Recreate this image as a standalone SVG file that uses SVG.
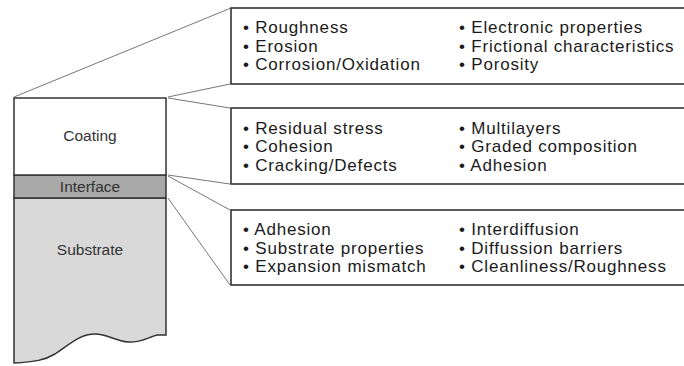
<svg xmlns="http://www.w3.org/2000/svg" width="684" height="366" viewBox="0 0 684 366">
<style>
.box{fill:#fff;stroke:#333;stroke-width:1.6}
.item{font-family:"Liberation Sans",Arial,sans-serif;font-size:17px;letter-spacing:0.8px;fill:#1a1a1a}
.lbl{font-family:"Liberation Sans",Arial,sans-serif;font-size:15.5px;fill:#333;text-anchor:middle}
.conn{stroke:#777;stroke-width:1;fill:none}
.layer{stroke:#333;stroke-width:1.5}
</style>
<rect width="684" height="366" fill="#fff"/>
<g id="connectors">
<line class="conn" x1="14" y1="97" x2="231" y2="8"/>
<line class="conn" x1="168" y1="97" x2="230" y2="84"/>
<line class="conn" x1="168" y1="98" x2="230" y2="108"/>
<line class="conn" x1="168" y1="175" x2="230" y2="184"/>
<line class="conn" x1="168" y1="176" x2="230" y2="210"/>
<line class="conn" x1="168" y1="198" x2="230" y2="285"/>
</g>
<g id="stack">
<g id="substrate">
<path class="layer" fill="#d9d9d9" d="M14,198 L166,198 L166,335 L158,335 C150,336 142,343 128,342 C115,341 108,334 95,334 C80,334 70,344 55,354 C45,360 35,362 14,363 Z"/>
<text class="lbl" x="90" y="255">Substrate</text>
</g>
<g id="interface">
<rect class="layer" x="14" y="175" width="152" height="23" fill="#a9a9a9"/>
<text class="lbl" x="90" y="192">Interface</text>
</g>
<g id="coating">
<rect class="layer" x="14" y="98" width="152" height="77" fill="#fff"/>
<text class="lbl" x="90" y="141">Coating</text>
</g>
</g>
<g id="box-coating">
<rect class="box" x="231" y="8" width="470" height="76"/>
<text class="item" x="243" y="33">• Roughness</text>
<text class="item" x="243" y="51.5">• Erosion</text>
<text class="item" x="243" y="70">• Corrosion/Oxidation</text>
<text class="item" x="459" y="33">• Electronic properties</text>
<text class="item" x="459" y="51.5">• Frictional characteristics</text>
<text class="item" x="459" y="70">• Porosity</text>
</g>
<g id="box-interface">
<rect class="box" x="231" y="108" width="470" height="76"/>
<text class="item" x="243" y="133.5">• Residual stress</text>
<text class="item" x="243" y="152">• Cohesion</text>
<text class="item" x="243" y="170.5">• Cracking/Defects</text>
<text class="item" x="459" y="133.5">• Multilayers</text>
<text class="item" x="459" y="152">• Graded composition</text>
<text class="item" x="459" y="170.5">• Adhesion</text>
</g>
<g id="box-substrate">
<rect class="box" x="231" y="210" width="470" height="75"/>
<text class="item" x="243" y="235">• Adhesion</text>
<text class="item" x="243" y="253.5">• Substrate properties</text>
<text class="item" x="243" y="272">• Expansion mismatch</text>
<text class="item" x="459" y="235">• Interdiffusion</text>
<text class="item" x="459" y="253.5">• Diffussion barriers</text>
<text class="item" x="459" y="272">• Cleanliness/Roughness</text>
</g>
</svg>
